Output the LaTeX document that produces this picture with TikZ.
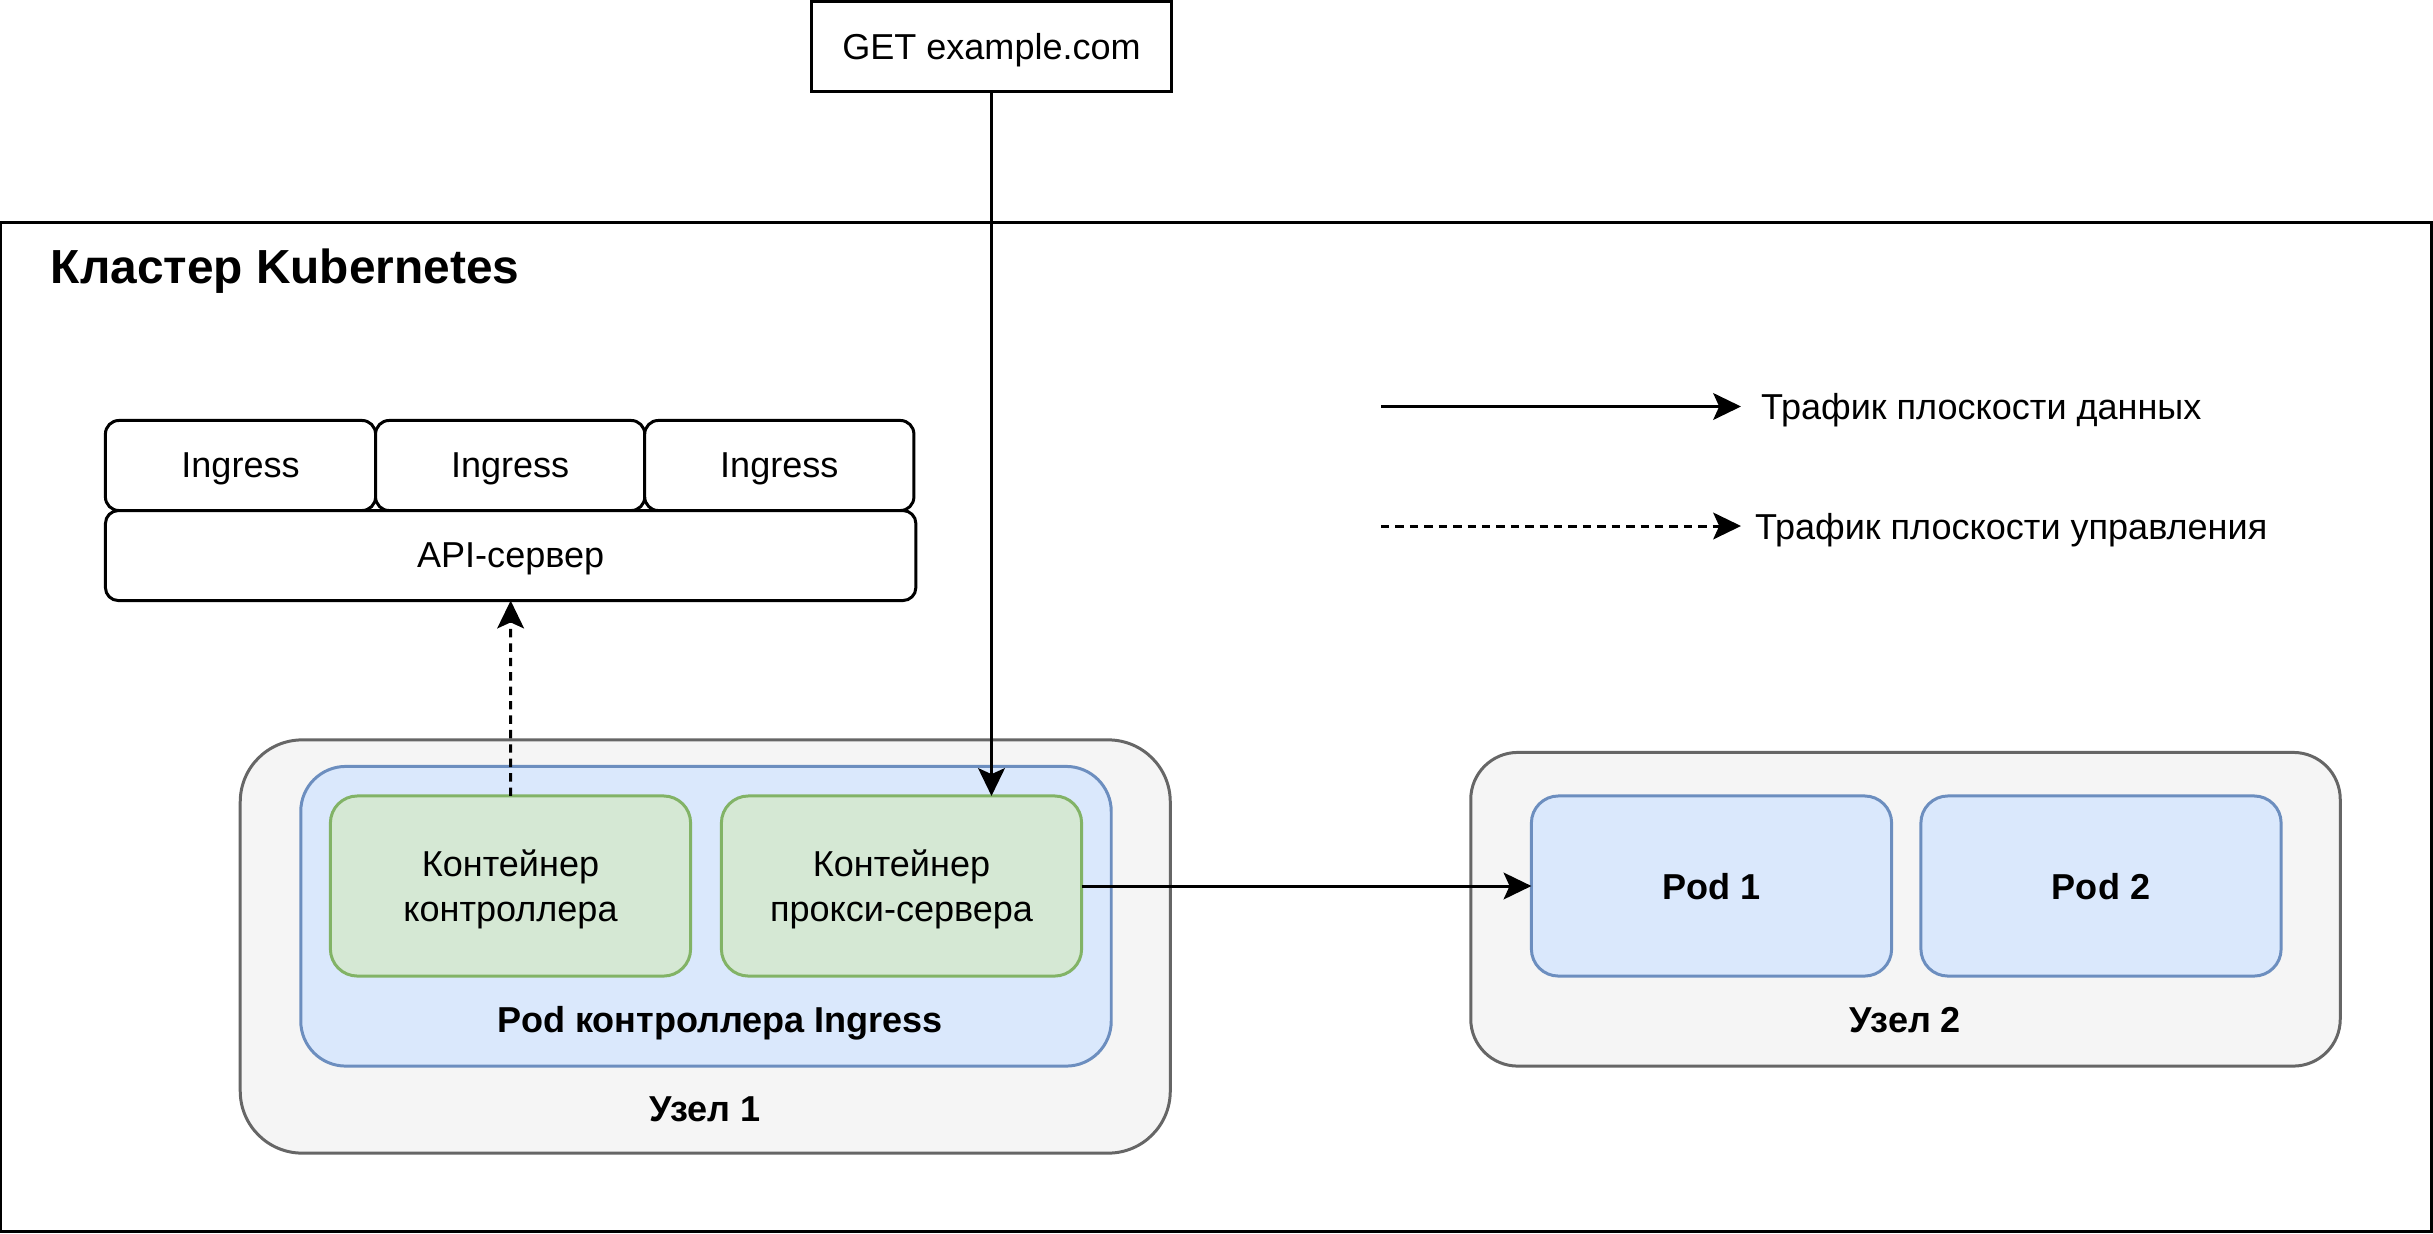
\documentclass[tikz,border=0pt]{standalone}
\usepackage{fontspec}
\setmainfont{Liberation Sans}
\usetikzlibrary{arrows.meta,positioning}
\definecolor{nodefill}{HTML}{F5F5F5}
\definecolor{nodeline}{HTML}{666666}
\definecolor{podfill}{HTML}{DAE8FC}
\definecolor{podline}{HTML}{6C8EBF}
\definecolor{ctrfill}{HTML}{D5E8D4}
\definecolor{ctrline}{HTML}{82B366}

\begin{document}
\begin{tikzpicture}[x=0.01cm, y=-0.01cm, line width=0.85pt, outer sep=0pt,
    font=\fontsize{10.25}{12.8}\selectfont, text depth=0pt,
    >={Stealth[length=7.9pt, width=7.6pt, inset=1.7pt]}]
\tikzstyle{box}=[draw=black, fill=white, inner sep=0pt, text centered]
\tikzstyle{ingbox}=[box, rounded corners=0.135cm, minimum width=2.7cm, minimum height=0.9cm]
\tikzstyle{nodebox}=[draw=nodeline, fill=nodefill, inner sep=0pt]
\tikzstyle{podbox}=[draw=podline, fill=podfill, inner sep=0pt, text centered]
\tikzstyle{ctrbox}=[draw=ctrline, fill=ctrfill, inner sep=0pt, align=center,
    rounded corners=0.27cm, minimum width=3.6cm, minimum height=1.8cm]
\tikzstyle{caption}=[inner sep=0pt, font=\fontsize{10.25}{12.8}\selectfont\bfseries]
\tikzstyle{ctlflow}=[->, dash pattern=on 2.4pt off 1.7pt]
\useasboundingbox (0,0) rectangle (2433,1233);

% cluster frame
\node (cluster) [draw, minimum width=24.29cm, minimum height=10.075cm] at (1216,727) {};
\node (title) [inner sep=0pt, anchor=base west, font=\fontsize{13.6}{16}\selectfont\bfseries]
    at (51,283) {Кластер Kubernetes};

% request
\node (get) [box, minimum width=3.6cm, minimum height=0.9cm] at (991.5,46.5) {GET example.com};

% API server and Ingress objects
\node (ing1) [ingbox] at (240.5,465.5) {Ingress};
\node (ing2) [ingbox, minimum width=2.69cm, anchor=west] at (ing1.east) {Ingress};
\node (ing3) [ingbox, minimum width=2.69cm, anchor=west] at (ing2.east) {Ingress};
\node (api) [box, rounded corners=0.13cm, minimum width=8.1cm, minimum height=0.9cm,
    anchor=north west] at (ing1.south west) {API-сервер};

% node 1
\node (node1) [nodebox, rounded corners=0.62cm, minimum width=9.295cm, minimum height=4.13cm]
    at (705.25,946.5) {};
\node (podctrl) [podbox, rounded corners=0.45cm, minimum width=8.1cm, minimum height=2.995cm]
    at (706,916.25) {};
\node (ctr) [ctrbox] at (510.5,886) {Контейнер\\контроллера};
\node (proxy) [ctrbox] at (901.5,886) {Контейнер\\прокси-сервера};
\node (podctrllabel) [caption] at (720,1019.5) {Pod контроллера Ingress};
\node (node1label) [caption] at (705,1109) {Узел 1};

% node 2
\node (node2) [nodebox, rounded corners=0.47cm, minimum width=8.69cm, minimum height=3.135cm]
    at (1905.5,909.25) {};
\node (pod1) [podbox, font=\fontsize{10.25}{12.8}\selectfont\bfseries, rounded corners=0.27cm,
    minimum width=3.6cm, minimum height=1.8cm] at (1711.5,886) {Pod 1};
\node (pod2) [podbox, font=\fontsize{10.25}{12.8}\selectfont\bfseries, rounded corners=0.27cm,
    minimum width=3.6cm, minimum height=1.8cm] at (2101,886) {Pod 2};
\node (node2label) [caption] at (1905.5,1019.5) {Узел 2};

% traffic
\draw[->] (get.south) -- (get.south |- proxy.north);
\draw[ctlflow] (ctr.north) -- (api.south);
\draw[->] (proxy.east) -- (pod1.west);

% legend
\coordinate (dataA) at (1381,406.5);
\coordinate (dataB) at (1741,406.5);
\coordinate (ctlA) at (1381,526);
\coordinate (ctlB) at (1741,526);
\draw[->] (dataA) -- (dataB);
\draw[ctlflow] (ctlA) -- (ctlB);
\node (datatext) [inner sep=0pt, anchor=west] at (1761,406.5) {Трафик плоскости данных};
\node (ctltext) [inner sep=0pt, anchor=west] at (1755,526) {Трафик плоскости управления};
\end{tikzpicture}
\end{document}
